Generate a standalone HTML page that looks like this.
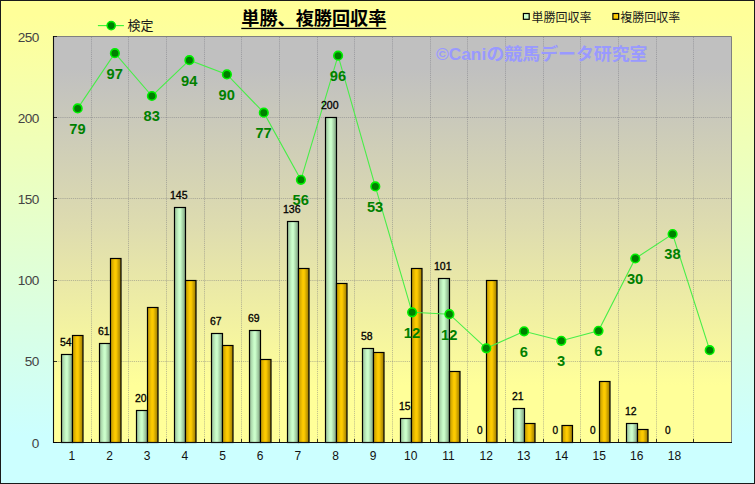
<!DOCTYPE html>
<html lang="ja">
<head>
<meta charset="utf-8">
<title>単勝、複勝回収率</title>
<style>
html,body{margin:0;padding:0;background:#fff;}
body{width:755px;height:484px;overflow:hidden;font-family:"Liberation Sans",sans-serif;}
svg{display:block;}
</style>
</head>
<body>
<svg width="755" height="484" viewBox="0 0 755 484" role="img" aria-label="単勝、複勝回収率">
<defs>
<linearGradient id="bg" x1="0" y1="0" x2="0" y2="1"><stop offset="0.03" stop-color="#FFFF99"/><stop offset="0.9" stop-color="#CCFFFF"/></linearGradient>
<linearGradient id="pg" x1="0" y1="0" x2="0" y2="1"><stop offset="0.08" stop-color="#C0C0C0"/><stop offset="0.47" stop-color="#DEDCAF"/><stop offset="0.86" stop-color="#FFFF99"/></linearGradient>
<linearGradient id="gg" x1="0" y1="0" x2="1" y2="0"><stop offset="0" stop-color="#98C098"/><stop offset="0.42" stop-color="#CCFFCC"/><stop offset="0.55" stop-color="#C8FAC8"/><stop offset="1" stop-color="#7C9E7C"/></linearGradient>
<linearGradient id="og" x1="0" y1="0" x2="1" y2="0"><stop offset="0" stop-color="#BE9700"/><stop offset="0.42" stop-color="#FFCC00"/><stop offset="0.55" stop-color="#FAC800"/><stop offset="1" stop-color="#977700"/></linearGradient>
</defs>
<rect x="0" y="0" width="755" height="484" fill="url(#bg)"/>
<rect x="0.5" y="0.5" width="754" height="483" fill="none" stroke="#1a1a1a" stroke-width="1"/>
<rect x="53.0" y="36.0" width="678.0" height="406.0" fill="url(#pg)"/>
<path d="M91.5 37.0V442.0M128.5 37.0V442.0M166.5 37.0V442.0M204.5 37.0V442.0M241.5 37.0V442.0M279.5 37.0V442.0M317.5 37.0V442.0M354.5 37.0V442.0M392.5 37.0V442.0M430.5 37.0V442.0M467.5 37.0V442.0M505.5 37.0V442.0M543.5 37.0V442.0M580.5 37.0V442.0M618.5 37.0V442.0M656.5 37.0V442.0M693.5 37.0V442.0M54.0 361.5H731.0M54.0 280.5H731.0M54.0 198.5H731.0M54.0 117.5H731.0" fill="none" stroke="#70707A" stroke-opacity="0.42" stroke-width="1" stroke-dasharray="1.2 0.9"/>
<path d="M53.0 36.5H731.5V442.0" fill="none" stroke="#808080" stroke-width="1"/>
<rect x="61.5" y="354.5" width="11" height="88.0" fill="url(#gg)" stroke="#000" stroke-width="1.2"/>
<rect x="72.5" y="335.5" width="10.5" height="107.0" fill="url(#og)" stroke="#000" stroke-width="1.2"/>
<rect x="99.5" y="343.5" width="11" height="99.0" fill="url(#gg)" stroke="#000" stroke-width="1.2"/>
<rect x="110.5" y="258.5" width="10.5" height="184.0" fill="url(#og)" stroke="#000" stroke-width="1.2"/>
<rect x="136.5" y="410.5" width="11" height="32.0" fill="url(#gg)" stroke="#000" stroke-width="1.2"/>
<rect x="147.5" y="307.5" width="10.5" height="135.0" fill="url(#og)" stroke="#000" stroke-width="1.2"/>
<rect x="174.5" y="207.5" width="11" height="235.0" fill="url(#gg)" stroke="#000" stroke-width="1.2"/>
<rect x="185.5" y="280.5" width="10.5" height="162.0" fill="url(#og)" stroke="#000" stroke-width="1.2"/>
<rect x="211.5" y="333.5" width="11" height="109.0" fill="url(#gg)" stroke="#000" stroke-width="1.2"/>
<rect x="222.5" y="345.5" width="10.5" height="97.0" fill="url(#og)" stroke="#000" stroke-width="1.2"/>
<rect x="249.5" y="330.5" width="11" height="112.0" fill="url(#gg)" stroke="#000" stroke-width="1.2"/>
<rect x="260.5" y="359.5" width="10.5" height="83.0" fill="url(#og)" stroke="#000" stroke-width="1.2"/>
<rect x="287.5" y="221.5" width="11" height="221.0" fill="url(#gg)" stroke="#000" stroke-width="1.2"/>
<rect x="298.5" y="268.5" width="10.5" height="174.0" fill="url(#og)" stroke="#000" stroke-width="1.2"/>
<rect x="325.5" y="117.5" width="11" height="325.0" fill="url(#gg)" stroke="#000" stroke-width="1.2"/>
<rect x="336.5" y="283.5" width="10.5" height="159.0" fill="url(#og)" stroke="#000" stroke-width="1.2"/>
<rect x="362.5" y="348.5" width="11" height="94.0" fill="url(#gg)" stroke="#000" stroke-width="1.2"/>
<rect x="373.5" y="352.5" width="10.5" height="90.0" fill="url(#og)" stroke="#000" stroke-width="1.2"/>
<rect x="400.5" y="418.5" width="11" height="24.0" fill="url(#gg)" stroke="#000" stroke-width="1.2"/>
<rect x="411.5" y="268.5" width="10.5" height="174.0" fill="url(#og)" stroke="#000" stroke-width="1.2"/>
<rect x="438.5" y="278.5" width="11" height="164.0" fill="url(#gg)" stroke="#000" stroke-width="1.2"/>
<rect x="449.5" y="371.5" width="10.5" height="71.0" fill="url(#og)" stroke="#000" stroke-width="1.2"/>
<rect x="486.5" y="280.5" width="10.5" height="162.0" fill="url(#og)" stroke="#000" stroke-width="1.2"/>
<rect x="513.5" y="408.5" width="11" height="34.0" fill="url(#gg)" stroke="#000" stroke-width="1.2"/>
<rect x="524.5" y="423.5" width="10.5" height="19.0" fill="url(#og)" stroke="#000" stroke-width="1.2"/>
<rect x="562.0" y="425.5" width="10.5" height="17.0" fill="url(#og)" stroke="#000" stroke-width="1.2"/>
<rect x="599.5" y="381.5" width="10.5" height="61.0" fill="url(#og)" stroke="#000" stroke-width="1.2"/>
<rect x="626.5" y="423.5" width="11" height="19.0" fill="url(#gg)" stroke="#000" stroke-width="1.2"/>
<rect x="637.5" y="429.5" width="10.5" height="13.0" fill="url(#og)" stroke="#000" stroke-width="1.2"/>
<path d="M53.5 36.0V442.5H732.0" fill="none" stroke="#111" stroke-width="1.1"/>
<path d="M53.0 442.5h4M53.0 361.5h4M53.0 280.5h4M53.0 198.5h4M53.0 117.5h4M53.0 36.5h4M91.5 439.0V442.0M128.5 439.0V442.0M166.5 439.0V442.0M204.5 439.0V442.0M241.5 439.0V442.0M279.5 439.0V442.0M317.5 439.0V442.0M354.5 439.0V442.0M392.5 439.0V442.0M430.5 439.0V442.0M467.5 439.0V442.0M505.5 439.0V442.0M543.5 439.0V442.0M580.5 439.0V442.0M618.5 439.0V442.0M656.5 439.0V442.0M693.5 439.0V442.0" stroke="#000" stroke-opacity="0.75" stroke-width="1" fill="none"/>
<polyline points="77.7,108.4 114.9,53.2 151.9,96.0 189.4,60.2 226.9,74.4 263.8,112.7 300.9,179.8 338.1,55.7 375.3,186.4 412.1,312.3 449.4,314.2 486.3,348.3 524.1,331.3 561.3,340.8 598.5,330.8 635.3,258.5 672.6,234.0 709.7,350.2" fill="none" stroke="#48EE48" stroke-width="1.1"/>
<circle cx="77.7" cy="108.4" r="4.3" fill="#008000" stroke="#00F000" stroke-width="1.6"/>
<circle cx="114.9" cy="53.2" r="4.3" fill="#008000" stroke="#00F000" stroke-width="1.6"/>
<circle cx="151.9" cy="96.0" r="4.3" fill="#008000" stroke="#00F000" stroke-width="1.6"/>
<circle cx="189.4" cy="60.2" r="4.3" fill="#008000" stroke="#00F000" stroke-width="1.6"/>
<circle cx="226.9" cy="74.4" r="4.3" fill="#008000" stroke="#00F000" stroke-width="1.6"/>
<circle cx="263.8" cy="112.7" r="4.3" fill="#008000" stroke="#00F000" stroke-width="1.6"/>
<circle cx="300.9" cy="179.8" r="4.3" fill="#008000" stroke="#00F000" stroke-width="1.6"/>
<circle cx="338.1" cy="55.7" r="4.3" fill="#008000" stroke="#00F000" stroke-width="1.6"/>
<circle cx="375.3" cy="186.4" r="4.3" fill="#008000" stroke="#00F000" stroke-width="1.6"/>
<circle cx="412.1" cy="312.3" r="4.3" fill="#008000" stroke="#00F000" stroke-width="1.6"/>
<circle cx="449.4" cy="314.2" r="4.3" fill="#008000" stroke="#00F000" stroke-width="1.6"/>
<circle cx="486.3" cy="348.3" r="4.3" fill="#008000" stroke="#00F000" stroke-width="1.6"/>
<circle cx="524.1" cy="331.3" r="4.3" fill="#008000" stroke="#00F000" stroke-width="1.6"/>
<circle cx="561.3" cy="340.8" r="4.3" fill="#008000" stroke="#00F000" stroke-width="1.6"/>
<circle cx="598.5" cy="330.8" r="4.3" fill="#008000" stroke="#00F000" stroke-width="1.6"/>
<circle cx="635.3" cy="258.5" r="4.3" fill="#008000" stroke="#00F000" stroke-width="1.6"/>
<circle cx="672.6" cy="234.0" r="4.3" fill="#008000" stroke="#00F000" stroke-width="1.6"/>
<circle cx="709.7" cy="350.2" r="4.3" fill="#008000" stroke="#00F000" stroke-width="1.6"/>
<g font-family='"Liberation Sans", sans-serif' font-size="10.2" fill="#000" stroke="#000" stroke-width="0.3">
<text x="60.00" y="345.5" textLength="11.6" lengthAdjust="spacingAndGlyphs">54</text>
<text x="98.00" y="334.5" textLength="11.6" lengthAdjust="spacingAndGlyphs">61</text>
<text x="135.00" y="401.5" textLength="11.6" lengthAdjust="spacingAndGlyphs">20</text>
<text x="170.00" y="198.5" textLength="17.6" lengthAdjust="spacingAndGlyphs">145</text>
<text x="210.00" y="324.5" textLength="11.6" lengthAdjust="spacingAndGlyphs">67</text>
<text x="248.00" y="321.5" textLength="11.6" lengthAdjust="spacingAndGlyphs">69</text>
<text x="283.00" y="212.5" textLength="17.6" lengthAdjust="spacingAndGlyphs">136</text>
<text x="321.00" y="108.5" textLength="17.6" lengthAdjust="spacingAndGlyphs">200</text>
<text x="361.00" y="339.5" textLength="11.6" lengthAdjust="spacingAndGlyphs">58</text>
<text x="399.00" y="409.5" textLength="11.6" lengthAdjust="spacingAndGlyphs">15</text>
<text x="434.00" y="269.5" textLength="17.6" lengthAdjust="spacingAndGlyphs">101</text>
<text x="477.00" y="433.5" textLength="5.6" lengthAdjust="spacingAndGlyphs">0</text>
<text x="512.00" y="399.5" textLength="11.6" lengthAdjust="spacingAndGlyphs">21</text>
<text x="552.50" y="433.5" textLength="5.6" lengthAdjust="spacingAndGlyphs">0</text>
<text x="590.00" y="433.5" textLength="5.6" lengthAdjust="spacingAndGlyphs">0</text>
<text x="625.00" y="414.5" textLength="11.6" lengthAdjust="spacingAndGlyphs">12</text>
<text x="665.00" y="433.5" textLength="5.6" lengthAdjust="spacingAndGlyphs">0</text>
</g>
<g font-family='"Liberation Sans", sans-serif' font-size="14.67" font-weight="bold" fill="#008000" text-anchor="middle">
<text x="77.5" y="133.8">79</text>
<text x="114.7" y="78.6">97</text>
<text x="151.7" y="121.4">83</text>
<text x="189.2" y="85.6">94</text>
<text x="226.7" y="99.8">90</text>
<text x="263.6" y="138.1">77</text>
<text x="300.7" y="205.2">56</text>
<text x="337.9" y="81.1">96</text>
<text x="375.1" y="211.8">53</text>
<text x="411.9" y="337.7">12</text>
<text x="449.2" y="339.6">12</text>
<text x="523.9" y="356.7">6</text>
<text x="561.1" y="366.2">3</text>
<text x="598.3" y="356.2">6</text>
<text x="635.1" y="283.9">30</text>
<text x="672.4" y="259.4">38</text>
</g>
<g font-family='"Liberation Sans", sans-serif' font-size="13.6" letter-spacing="-0.55" fill="#444" text-anchor="end">
<text x="38.8" y="447.5">0</text>
<text x="38.8" y="366.3">50</text>
<text x="38.8" y="285.1">100</text>
<text x="38.8" y="203.9">150</text>
<text x="38.8" y="122.7">200</text>
<text x="38.8" y="41.5">250</text>
</g>
<g font-family='"Liberation Sans", sans-serif' font-size="12" fill="#111" text-anchor="middle">
<text x="71.8" y="460.1">1</text>
<text x="109.5" y="460.1">2</text>
<text x="147.2" y="460.1">3</text>
<text x="184.8" y="460.1">4</text>
<text x="222.5" y="460.1">5</text>
<text x="260.2" y="460.1">6</text>
<text x="297.8" y="460.1">7</text>
<text x="335.5" y="460.1">8</text>
<text x="373.2" y="460.1">9</text>
<text x="410.8" y="460.1">10</text>
<text x="448.5" y="460.1">11</text>
<text x="486.2" y="460.1">12</text>
<text x="523.8" y="460.1">13</text>
<text x="561.5" y="460.1">14</text>
<text x="599.2" y="460.1">15</text>
<text x="636.8" y="460.1">16</text>
<text x="674.5" y="460.1">18</text>
</g>
<g aria-label="単勝、複勝回収率"><text x="241.3" y="25.2" font-family='"Liberation Sans", "Noto Sans CJK JP", sans-serif' font-size="18" font-weight="bold" fill="#000" textLength="145.1" lengthAdjust="spacingAndGlyphs">単勝、複勝回収率</text>
<rect x="241.3" y="27.8" width="145.1" height="1.3" fill="#000"/></g>
<g aria-label="©Caniの競馬データ研究室"><text x="435.9" y="60.1" font-family='"Liberation Sans", sans-serif' font-size="17.33" font-weight="bold" fill="#9999FF">©Cani</text><text x="486.5" y="60.1" font-family='"Liberation Sans", "Noto Sans CJK JP", sans-serif' font-size="17.33" font-weight="bold" fill="#9999FF" textLength="161" lengthAdjust="spacingAndGlyphs">の競馬データ研究室</text></g>
<path d="M97.9 25.6H123.9" stroke="#33F533" stroke-width="1.1"/>
<circle cx="111.2" cy="25.6" r="4.1" fill="#008000" stroke="#00F000" stroke-width="1.5"/>
<g aria-label="検定"><text x="127.4" y="30.2" font-family='"Liberation Sans", "Noto Sans CJK JP", sans-serif' font-size="13" fill="#1a1a1a" textLength="26" lengthAdjust="spacingAndGlyphs">検定</text></g>
<rect x="523.4" y="13.5" width="5.8" height="5.8" fill="#CCFFCC" stroke="#000" stroke-width="1.2"/>
<g aria-label="単勝回収率"><text x="531.5" y="21.8" font-family='"Liberation Sans", "Noto Sans CJK JP", sans-serif' font-size="12" fill="#1a1a1a" textLength="60" lengthAdjust="spacingAndGlyphs">単勝回収率</text></g>
<rect x="612.9" y="13.5" width="5.8" height="5.8" fill="#FFCC00" stroke="#000" stroke-width="1.2"/>
<g aria-label="複勝回収率"><text x="620.3" y="21.8" font-family='"Liberation Sans", "Noto Sans CJK JP", sans-serif' font-size="12" fill="#1a1a1a" textLength="60" lengthAdjust="spacingAndGlyphs">複勝回収率</text></g>
</svg>
</body>
</html>
